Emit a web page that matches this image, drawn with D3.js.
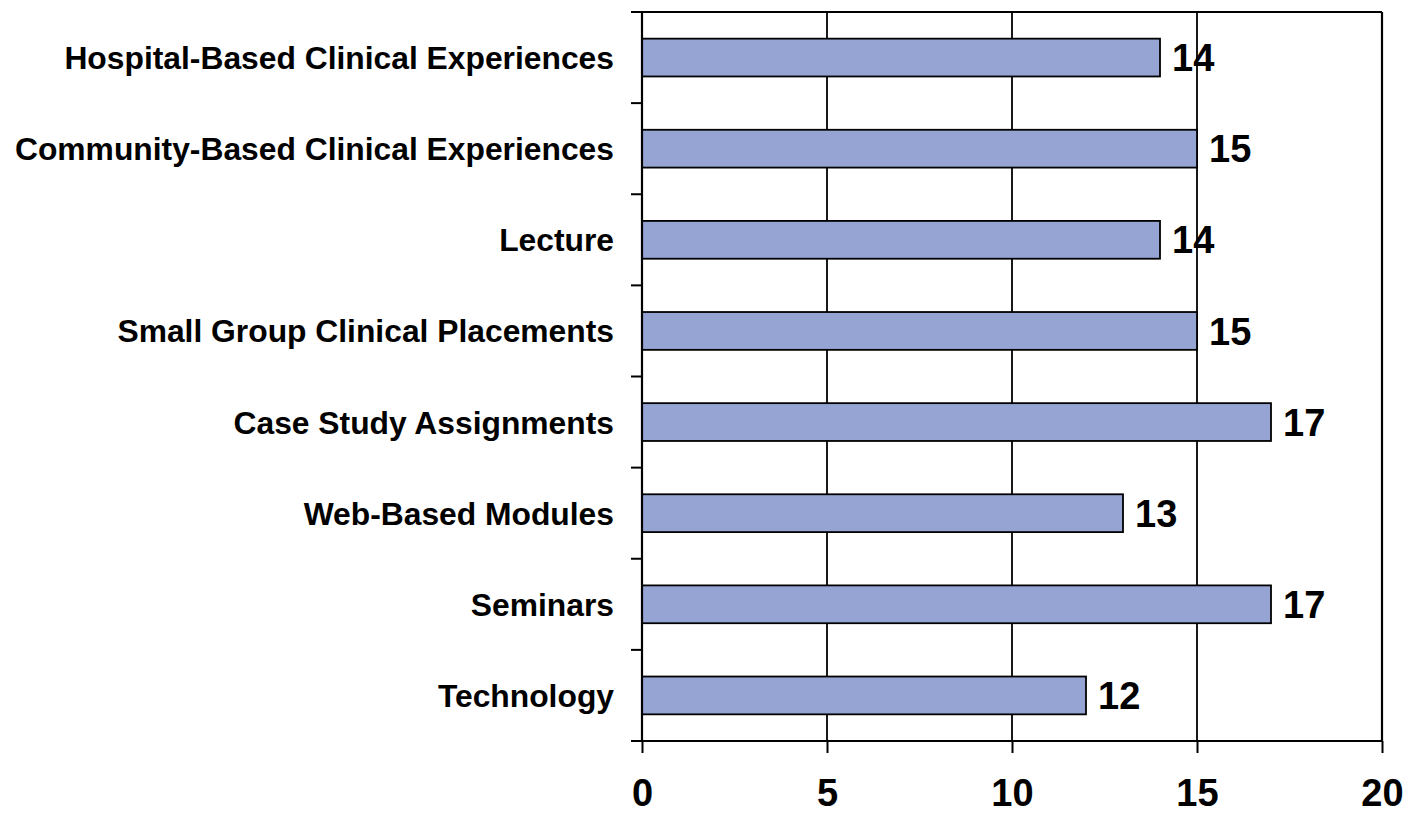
<!DOCTYPE html>
<html lang="en">
<head>
	<meta charset="utf-8"/>
	<title>Teaching methods</title>
	<script src="https://d3js.org/d3.v7.min.js"></script>
	<style>
		body { margin: 0; background: #fff; }
		text { font-family: "Liberation Sans", Arial, sans-serif; font-weight: bold; fill: #000; }
	</style>
</head>
<body>
<div id="chart"></div>

<script>
	// data, top to bottom
	var categories = ["Hospital-Based Clinical Experiences", "Community-Based Clinical Experiences",
		"Lecture", "Small Group Clinical Placements", "Case Study Assignments",
		"Web-Based Modules", "Seminars", "Technology"];
	var values = [14, 15, 14, 15, 17, 13, 17, 12];
	var xTicks = [0, 5, 10, 15, 20];

	var width = 1412,
		height = 813;

	var m = {top: 12, right: 30, bottom: 72, left: 642};

	var svg = d3.select("#chart").append("svg")
		.attr("width", width)
		.attr("height", height);

	var x = d3.scaleLinear()
		.domain([0, 20])
		.range([m.left, width - m.right]);

	// padding split so that each slot is exactly range/n
	var y = d3.scaleBand()
		.domain(categories)
		.range([m.top, height - m.bottom])
		.paddingInner(0.585)
		.paddingOuter(0.2925);

	var step = y.step();

	// vertical gridlines
	svg.append("g")
		.selectAll("line")
		.data(xTicks.slice(1, -1))
		.enter().append("line")
			.attr("x1", function(d) { return x(d); })
			.attr("x2", function(d) { return x(d); })
			.attr("y1", m.top)
			.attr("y2", height - m.bottom)
			.attr("stroke", "#000")
			.attr("stroke-width", 1.8);

	// bars
	svg.append("g")
		.selectAll("rect")
		.data(values)
		.enter().append("rect")
			.attr("x", x(0))
			.attr("y", function(d, i) { return y(categories[i]); })
			.attr("width", function(d) { return x(d) - x(0); })
			.attr("height", y.bandwidth())
			.attr("fill", "#95a4d2")
			.attr("stroke", "#000")
			.attr("stroke-width", 1.8);

	// value labels
	svg.append("g")
		.selectAll("text")
		.data(values)
		.enter().append("text")
			.attr("x", function(d) { return x(d) + 12; })
			.attr("y", function(d, i) { return y(categories[i]) + y.bandwidth() / 2; })
			.attr("dy", "0.36em")
			.attr("font-size", 38)
			.text(function(d) { return d; });

	// frame: top and right border
	var y0 = m.top, y1 = height - m.bottom;
	svg.append("line")
		.attr("x1", x(0) - 11).attr("x2", x(20))
		.attr("y1", y0).attr("y2", y0)
		.attr("stroke", "#000").attr("stroke-width", 2.2);
	svg.append("line")
		.attr("x1", x(20)).attr("x2", x(20))
		.attr("y1", y0).attr("y2", y1)
		.attr("stroke", "#000").attr("stroke-width", 2.2);

	// left axis: ticks at slot boundaries
	var yAxis = svg.append("g");
	yAxis.append("line")
		.attr("x1", x(0)).attr("x2", x(0))
		.attr("y1", y0).attr("y2", y1)
		.attr("stroke", "#000").attr("stroke-width", 2.2);
	yAxis.selectAll("line.tick")
		.data(d3.range(categories.length + 1))
		.enter().append("line")
			.attr("class", "tick")
			.attr("x1", x(0) - 11).attr("x2", x(0))
			.attr("y1", function(i) { return y0 + i * step; })
			.attr("y2", function(i) { return y0 + i * step; })
			.attr("stroke", "#000").attr("stroke-width", 2);
	yAxis.selectAll("text")
		.data(categories)
		.enter().append("text")
			.attr("x", x(0) - 28)
			.attr("y", function(d) { return y(d) + y.bandwidth() / 2; })
			.attr("dy", "0.36em")
			.attr("text-anchor", "end")
			.attr("font-size", 31.8)
			.text(function(d) { return d; });

	// bottom axis
	var xAxis = svg.append("g")
		.attr("transform", "translate(0," + y1 + ")")
		.call(d3.axisBottom(x).tickValues(xTicks).tickSize(12).tickPadding(26));
	xAxis.select(".domain")
		.attr("d", "M" + (x(0) - 11) + ",0H" + x(20))
		.attr("stroke-width", 2.2);
	xAxis.selectAll(".tick line").attr("stroke-width", 2);
	xAxis.selectAll(".tick text")
		.attr("font-size", 38)
		.attr("font-family", null);
	xAxis.attr("font-family", null).attr("font-size", null);
</script>
</body>
</html>
